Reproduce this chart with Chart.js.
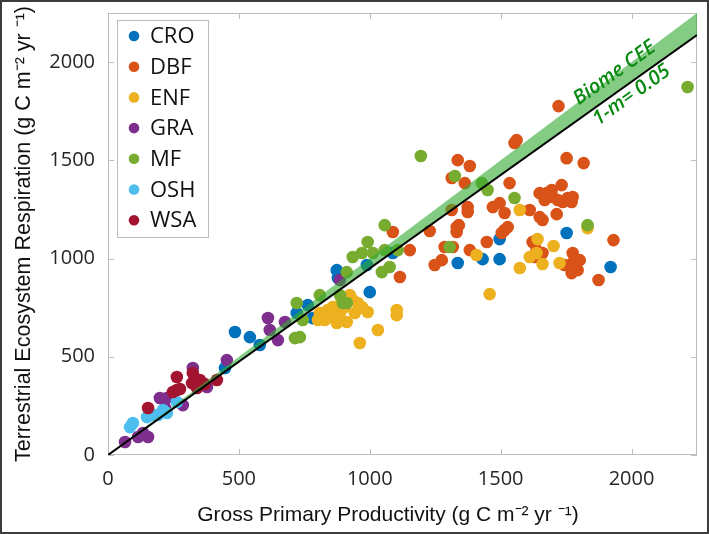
<!DOCTYPE html>
<html>
<head>
<meta charset="utf-8">
<title>GPP vs TER by biome</title>
<script src="https://cdn.jsdelivr.net/npm/chart.js@4.4.0/dist/chart.umd.min.js"></script>
<style>
  html, body { margin: 0; padding: 0; background: #fff; }
  #wrap { width: 709px; height: 534px; box-sizing: border-box; border: 2px solid #3c3c3c; }
  canvas { display: block; }
</style>
</head>
<body>
<div id="wrap"><canvas id="chart" width="705" height="530"></canvas></div>
<script>
// Biome series (GPP on x, TER on y)
const croX = [447, 485, 542, 580, 721, 763, 782, 874, 878, 989, 1000, 1088, 1336, 1431, 1496, 1496, 1752, 1920];
const croY = [443, 626, 600, 560, 723, 763, 697, 941, 901, 967, 829, 1028, 977, 997, 1099, 997, 1130, 957];

const dbfX = [1721, 1561, 1553, 1752, 1817, 1336, 1382, 1313, 1363, 1534, 1676, 1695, 1733, 1699, 1718, 1737, 1756, 1775, 1771, 1649,
              1668, 1496, 1470, 1515, 1611, 1649, 1660, 1714, 1374, 1374, 1313, 1332, 1340, 1332, 1229, 1088, 1527, 1515, 1504, 1447,
              1286, 1317, 1382, 1153, 1275, 1248, 1115, 1622, 1637, 1630, 1660, 1637, 1645, 1931, 1775, 1802, 1775, 1794, 1771, 1744, 1874];
const dbfY = [1776, 1603, 1588, 1511, 1486, 1501, 1471, 1410, 1384, 1384, 1333, 1349, 1374, 1313, 1298, 1288, 1308, 1313, 1288, 1333,
              1298, 1282, 1262, 1232, 1247, 1211, 1196, 1226, 1262, 1237, 1247, 1160, 1170, 1135, 1140, 1135, 1160, 1145, 1130, 1084,
              1059, 1059, 1043, 1043, 992, 967, 906, 1084, 1043, 1008, 1028, 1094, 1008, 1094, 1028, 992, 977, 941, 926, 967, 891];

const enfX = [809, 828, 847, 859, 874, 886, 905, 912, 924, 935, 954, 970, 943, 893, 802, 840, 962, 1031, 1103, 1103,
              992, 1458, 1408, 1573, 1573, 1641, 1702, 1611, 1637, 1660, 1725, 1832];
const enfY = [723, 687, 702, 753, 672, 723, 753, 677, 814, 789, 774, 753, 723, 789, 687, 738, 570, 636, 738, 712,
              728, 819, 1018, 952, 1247, 1099, 1064, 1008, 1028, 972, 977, 1155];

const graX = [65, 115, 153, 134, 198, 225, 218, 286, 324, 378, 454, 611, 618, 649, 676, 886];
const graY = [66, 92, 92, 112, 290, 290, 239, 254, 443, 346, 483, 697, 636, 585, 677, 891];

const mfX = [1057, 992, 935, 970, 1012, 1057, 1107, 1076, 1046, 912, 809, 886, 897, 744, 733, 721, 714, 912, 1305, 1450,
             1428, 1553, 1195, 1325, 1832, 2214];
const mfY = [1170, 1084, 1008, 1028, 1028, 1043, 1043, 957, 931, 931, 814, 814, 774, 687, 600, 774, 595, 774, 1059, 1349,
             1384, 1308, 1522, 1420, 1170, 1873];

const oshX = [84, 95, 149, 160, 191, 210, 225, 263, 172];
const oshY = [142, 163, 193, 214, 204, 229, 214, 270, 204];

const wsaX = [153, 263, 324, 263, 248, 275, 321, 351, 340, 370, 416];
const wsaY = [239, 397, 417, 331, 321, 336, 366, 382, 341, 361, 382];

const biomes = ['CRO', 'DBF', 'ENF', 'GRA', 'MF', 'OSH', 'WSA'];
const seriesX = [croX, dbfX, enfX, graX, mfX, oshX, wsaX];
const seriesY = [croY, dbfY, enfY, graY, mfY, oshY, wsaY];

// axes and the biome CEE line (TER = (1 - 0.05) * GPP)
const axisMax = 2250;
const xTicks = [0, 500, 1000, 1500, 2000];
const yTicks = [0, 500, 1000, 1500, 2000];
const ceeSlope = 0.95;
const lineEnds = [0, 2250];

const biomeColors = ['#0072BD', '#D95319', '#EDB120', '#7E2F8E', '#77AC30', '#4DBEEE', '#A2142F'];
const frameColor = '#bdbdbd';
const labelGreen = '#0b8a12';

const keepTicks = list => scale => {
    scale.ticks = list.map(value => ({ value }));
};

const pointSets = biomes.map((name, i) => ({
    type: 'scatter',
    label: name,
    data: seriesX[i].map((x, j) => ({ x, y: seriesY[i][j] })),
    backgroundColor: biomeColors[i],
    borderWidth: 0,
    pointRadius: 6.3,
    order: biomes.length - i   // later biomes drawn on top, as in the source
}));

const lineSets = [
    {
        type: 'line',
        label: 'band',
        data: lineEnds.map(x => ({ x, y: x })),
        borderColor: 'rgba(0,0,0,0)',
        borderWidth: 1,
        pointRadius: 0,
        fill: '+1',
        backgroundColor: 'rgba(50,170,50,0.6)',
        order: 0
    },
    {
        type: 'line',
        label: 'cee',
        data: lineEnds.map(x => ({ x, y: x * ceeSlope })),
        borderColor: '#000',
        borderWidth: 2,
        pointRadius: 0,
        fill: false,
        order: -1
    }
];

// box + inward ticks on all four sides
const framePlugin = {
    id: 'frame',
    beforeDatasetsDraw(chart) {
        const { ctx, chartArea: a, scales: { x, y } } = chart;
        ctx.save();
        ctx.strokeStyle = frameColor;
        ctx.lineWidth = 1;
        ctx.strokeRect(a.left + 0.5, a.top + 0.5, a.width - 1, a.height - 1);
        ctx.beginPath();
        xTicks.forEach(v => {
            const px = Math.round(x.getPixelForValue(v)) + 0.5;
            ctx.moveTo(px, a.bottom); ctx.lineTo(px, a.bottom - 6);
            ctx.moveTo(px, a.top); ctx.lineTo(px, a.top + 6);
        });
        yTicks.forEach(v => {
            const py = Math.round(y.getPixelForValue(v)) + 0.5;
            ctx.moveTo(a.left, py); ctx.lineTo(a.left + 6, py);
            ctx.moveTo(a.right, py); ctx.lineTo(a.right - 6, py);
        });
        ctx.stroke();
        ctx.restore();
    }
};

// rotated labels along the CEE line
const ceeLabelPlugin = {
    id: 'ceeLabel',
    afterDatasetsDraw(chart) {
        const { ctx, scales: { x, y } } = chart;
        const dx = x.getPixelForValue(1000) - x.getPixelForValue(0);
        const dy = y.getPixelForValue(1000 * ceeSlope) - y.getPixelForValue(0);
        const angle = Math.atan2(dy, dx);
        const put = (text, vx, vy) => {
            ctx.save();
            ctx.translate(x.getPixelForValue(vx), y.getPixelForValue(vy));
            ctx.rotate(angle);
            ctx.fillStyle = labelGreen;
            ctx.font = 'italic 600 20px "Open Sans"';
            ctx.textAlign = 'center';
            ctx.textBaseline = 'middle';
            ctx.fillText(text, 0, 0);
            ctx.restore();
        };
        put('Biome CEE', 1935, 1944);
        put('1-m= 0.05', 2000, 1832);
    }
};

// boxed legend in the upper left of the plot
const legendPlugin = {
    id: 'boxLegend',
    afterDraw(chart) {
        const { ctx, chartArea: a } = chart;
        const left = a.left + 9, top = a.top + 7;
        ctx.save();
        ctx.fillStyle = '#fff';
        ctx.fillRect(left, top, 91, 217);
        ctx.strokeStyle = frameColor;
        ctx.lineWidth = 1;
        ctx.strokeRect(left + 0.5, top + 0.5, 91, 217);
        ctx.font = '22px "Open Sans"';
        ctx.textBaseline = 'middle';
        biomes.forEach((name, i) => {
            const cy = top + 16 + i * 30.7;
            ctx.fillStyle = biomeColors[i];
            ctx.beginPath();
            ctx.arc(left + 17, cy, 5.3, 0, Math.PI * 2);
            ctx.fill();
            ctx.fillStyle = '#111';
            ctx.fillText(name, left + 33, cy + 1);
        });
        ctx.restore();
    }
};

const tickFont = { family: '"Open Sans"', size: 20 };
const plainTick = v => String(v);

new Chart(document.getElementById('chart'), {
    type: 'scatter',
    data: { datasets: [...pointSets, ...lineSets] },
    options: {
        responsive: false,
        animation: false,
        layout: { padding: { top: 11, right: 10, left: 0, bottom: 0 } },
        plugins: { legend: { display: false }, tooltip: { enabled: false } },
        scales: {
            x: {
                type: 'linear', min: 0, max: axisMax,
                afterBuildTicks: keepTicks(xTicks),
                afterFit(s) { s.height = 77; s.paddingLeft = 0; s.paddingRight = 0; },
                grid: { display: false, drawTicks: false },
                border: { display: false },
                ticks: { padding: 12, color: '#262626', font: tickFont, maxRotation: 0, autoSkip: false, includeBounds: false, callback: plainTick },
                title: {
                    display: true,
                    // trailing spaces nudge the centred title left like the original
                    text: 'Gross Primary Productivity (g C m\u207B\u00B2 yr \u207B\u00B9)     ',
                    color: '#111', font: { family: '"Liberation Sans", Arial', size: 21 }, padding: { top: 0, bottom: 4 }
                }
            },
            y: {
                type: 'linear', min: 0, max: axisMax,
                afterBuildTicks: keepTicks(yTicks),
                afterFit(s) { s.width = 106; s.paddingTop = 0; s.paddingBottom = 0; },
                grid: { display: false, drawTicks: false },
                border: { display: false },
                ticks: { padding: 13, color: '#262626', font: tickFont, autoSkip: false, includeBounds: false, callback: plainTick },
                title: {
                    display: true,
                    text: 'Terrestrial Ecosystem Respiration (g C m\u207B\u00B2 yr \u207B\u00B9)',
                    color: '#111', font: { family: '"Liberation Sans", Arial', size: 21.5 }, padding: { top: 9, bottom: 0 }
                }
            }
        }
    },
    plugins: [framePlugin, ceeLabelPlugin, legendPlugin]
});
</script>
</body>
</html>
